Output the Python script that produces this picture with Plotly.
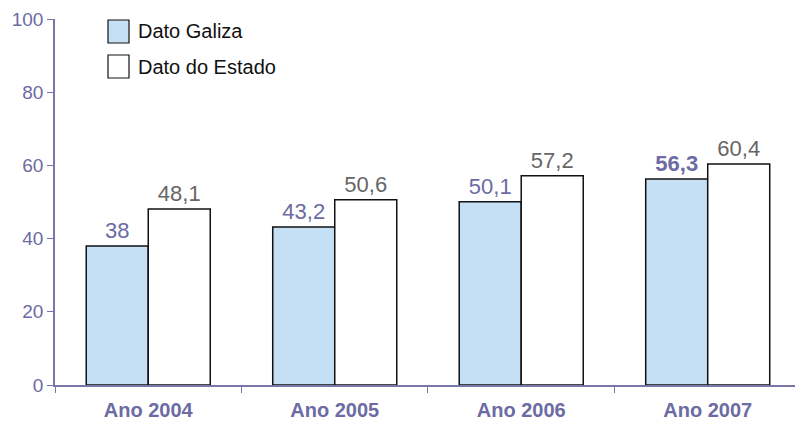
import plotly.graph_objects as go

years = ["Ano 2004", "Ano 2005", "Ano 2006", "Ano 2007"]
galiza = [38, 43.2, 50.1, 56.3]
estado = [48.1, 50.6, 57.2, 60.4]
y_ticks = [0, 20, 40, 60, 80, 100]

PURPLE = "#6c6ba3"
AXIS = "#7877a8"
GREY_TXT = "#666666"
BLUE = "#c5e0f5"
FONT = "Liberation Sans, Arial, sans-serif"


def fmt(v):
    return f"{v:g}".replace(".", ",")


galiza_text = [fmt(v) for v in galiza]
galiza_text[-1] = "<b>" + galiza_text[-1] + "</b>"  # latest year highlighted
estado_text = [fmt(v) for v in estado]

fig = go.Figure()

fig.add_trace(
    go.Bar(
        x=years,
        y=galiza,
        name="Dato Galiza",
        marker=dict(color=BLUE, line=dict(color="#111111", width=1.5)),
        text=galiza_text,
        textposition="outside",
        textfont=dict(size=22, color=PURPLE, family=FONT),
        constraintext="none",
        cliponaxis=False,
    )
)
fig.add_trace(
    go.Bar(
        x=years,
        y=estado,
        name="Dato do Estado",
        marker=dict(color="#ffffff", line=dict(color="#111111", width=1.5)),
        text=estado_text,
        textposition="outside",
        textfont=dict(size=22, color=GREY_TXT, family=FONT),
        constraintext="none",
        cliponaxis=False,
    )
)

# hand-drawn legend (large boxes like the original)
legend_items = [("Dato Galiza", BLUE, 20), ("Dato do Estado", "#ffffff", 55)]
for label, fill, top in legend_items:
    fig.add_shape(
        type="rect",
        xref="paper", yref="paper",
        x0=(108 - 55) / 740, x1=(129 - 55) / 740,
        y0=(385 - top - 23) / 366, y1=(385 - top) / 366,
        fillcolor=fill,
        line=dict(color="#111111", width=1.2),
    )
    fig.add_annotation(
        xref="paper", yref="paper",
        x=(136 - 55) / 740, y=(385 - top - 11.5) / 366,
        text=label,
        showarrow=False,
        xanchor="left", yanchor="middle",
        font=dict(size=20, color="#111111", family=FONT),
    )

fig.update_layout(
    width=795,
    height=421,
    margin=dict(l=55, r=0, t=19, b=36),
    paper_bgcolor="#ffffff",
    plot_bgcolor="rgba(0,0,0,0)",
    font=dict(family=FONT),
    barmode="group",
    bargap=0.335,
    bargroupgap=0,
    showlegend=False,
    xaxis=dict(
        range=[-0.5, 3.468],
        showline=True,
        linecolor=AXIS,
        linewidth=1.5,
        ticks="outside",
        tickson="boundaries",
        ticklen=6,
        tickcolor=AXIS,
        ticklabelstandoff=6,
        tickfont=dict(size=20, color=PURPLE, family=FONT, weight="bold"),
        showgrid=False,
        zeroline=False,
        automargin=False,
    ),
    yaxis=dict(
        range=[0, 100],
        tickvals=y_ticks,
        showline=True,
        linecolor=AXIS,
        linewidth=1.5,
        ticks="outside",
        ticklen=6,
        tickcolor=AXIS,
        tickfont=dict(size=19, color=PURPLE, family=FONT),
        showgrid=False,
        zeroline=False,
        automargin=False,
    ),
)

fig.write_html(
    "out.html",
    config={"displayModeBar": False},
    post_script="document.body.style.margin='0';",
)
